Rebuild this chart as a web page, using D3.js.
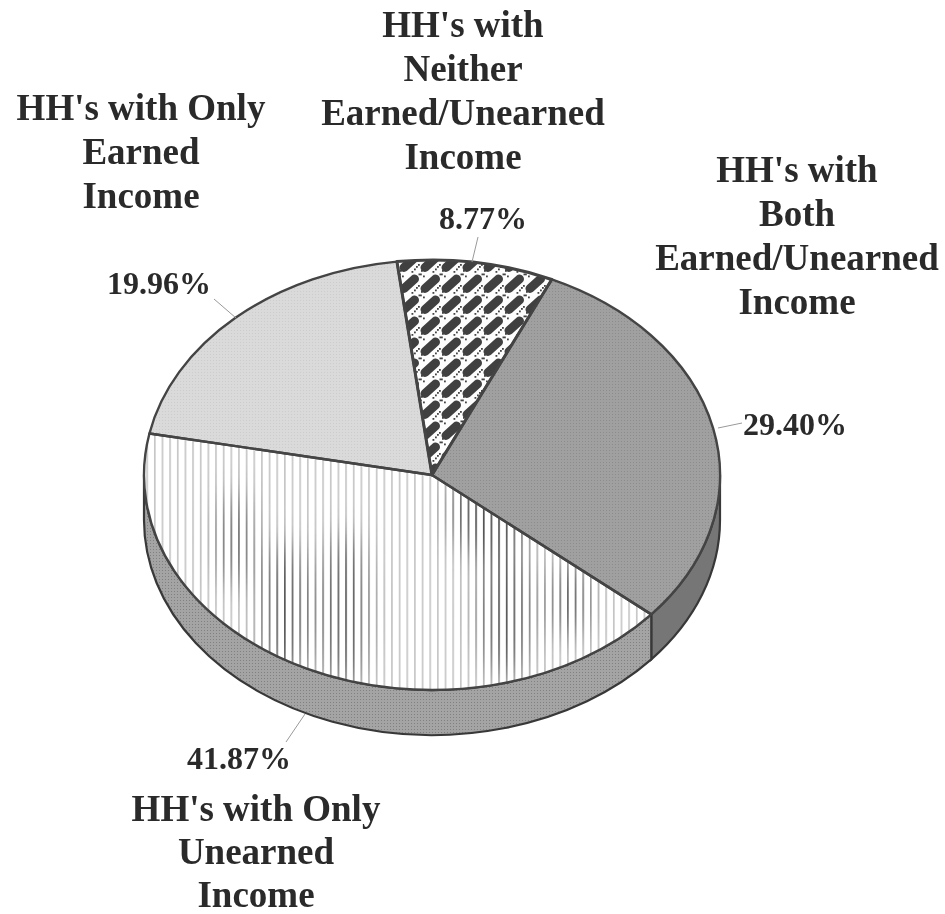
<!DOCTYPE html>
<html><head><meta charset="utf-8">
<script src="https://cdn.jsdelivr.net/npm/d3@7"></script>
<style>html,body{margin:0;padding:0;background:#fff}svg{display:block;filter:blur(0.45px)}
text{font-family:"Liberation Serif","Times New Roman",serif;font-weight:700;fill:#2a2a2a}</style>
</head><body><svg id="c" width="945" height="914"></svg>
<script>
const categories=["Neither","Both","Unearned","Earned"];
const values=[8.77,29.40,41.87,19.96];
const valueLabels=["8.77%","29.40%","41.87%","19.96%"];
const categoryLines=[
 ["HH's with","Neither","Earned/Unearned","Income"],
 ["HH's with","Both","Earned/Unearned","Income"],
 ["HH's with Only","Unearned","Income"],
 ["HH's with Only","Earned","Income"]];

// layout
const catAnchor=[[463,37,44],[797,182,44],[256,821,43],[141,120,44]];
const valueAnchor=[[483,229],[795,435],[239,769],[159,294]];
const leaders=[[[478,237],[472,262]],[[718,428],[742,423]],[[286,742],[305,714]],[[214,299],[236,318]]];
const patterns=["pNeither","pBoth","pUnearned","pEarned"];
const sideFills=[null,"#767676","url(#pSide)",null];
const cx=432,cy=475,rx=288,ry=215,depth=45,start=-7*Math.PI/180;

const svg=d3.select("#c"),defs=svg.append("defs");
function tile(id,size,draw){const p=defs.append("pattern").attr("id",id).attr("patternUnits","userSpaceOnUse")
  .attr("width",size).attr("height",size);draw(p);}
tile("pEarned",3,p=>{p.append("rect").attr("width",3).attr("height",3).attr("fill","#dadada");
  p.append("rect").attr("width",1).attr("height",1).attr("fill","#cccccc");});
tile("pBoth",3,p=>{p.append("rect").attr("width",3).attr("height",3).attr("fill","#a0a0a0");
  p.append("rect").attr("width",1).attr("height",1).attr("fill","#8c8c8c");});
tile("pSide",3,p=>{p.append("rect").attr("width",3).attr("height",3).attr("fill","#a4a4a4");
  p.append("rect").attr("width",1).attr("height",1).attr("fill","#808080");});
defs.append("pattern").attr("id","pStripe").attr("patternUnits","userSpaceOnUse")
  .attr("width",7.65).attr("height",8).call(p=>{
  p.append("rect").attr("x",1).attr("width",1.6).attr("height",8).attr("fill","#fff");});
defs.append("mask").attr("id","mStripe").attr("maskUnits","userSpaceOnUse")
  .attr("x",0).attr("y",0).attr("width",945).attr("height",914)
  .append("rect").attr("width",945).attr("height",914).attr("fill","url(#pStripe)");
defs.append("filter").attr("id","soft").attr("x","-50%").attr("y","-50%").attr("width","200%").attr("height","200%")
  .append("feGaussianBlur").attr("stdDeviation",14);
tile("pNeither",21,p=>{
  p.append("rect").attr("width",21).attr("height",21).attr("fill","#fdfdfd");
  p.append("line").attr("x1",5).attr("y1",15.5).attr("x2",15.5).attr("y2",6)
   .attr("stroke","#404040").attr("stroke-width",9).attr("stroke-linecap","round");
  [[19.5,0.5],[17,14],[19,12],[15,16.5],[12.5,19],[1,18],[0,0.5],[3,2.5]].forEach(d=>
    p.append("rect").attr("x",d[0]).attr("y",d[1]).attr("width",1.8).attr("height",1.8).attr("fill","#444"));
});

const x=a=>cx+rx*Math.sin(a), y=a=>cy-ry*Math.cos(a);
const arcs=d3.pie().sort(null).startAngle(start).endAngle(start+2*Math.PI)(values);
const wedge=d=>{const lg=(d.endAngle-d.startAngle)>Math.PI?1:0;
   return `M${cx},${cy}L${x(d.startAngle)},${y(d.startAngle)}A${rx},${ry} 0 ${lg} 1 ${x(d.endAngle)},${y(d.endAngle)}Z`;};

function sidePath(a0,a1){const lg=(a1-a0)>Math.PI?1:0;
  return `M${x(a0)},${y(a0)}A${rx},${ry} 0 ${lg} 1 ${x(a1)},${y(a1)}L${x(a1)},${y(a1)+depth}A${rx},${ry} 0 ${lg} 0 ${x(a0)},${y(a0)+depth}Z`;}
const sideG=svg.append("g");
arcs.forEach((d,i)=>{ if(!sideFills[i])return;
  const a0=Math.max(d.startAngle,Math.PI/2), a1=Math.min(d.endAngle,Math.PI*1.5);
  sideG.append("path").attr("d",sidePath(a0,a1)).attr("fill",sideFills[i])
   .attr("stroke","#383838").attr("stroke-width",2.2);});

// slice fills
const sliceG=svg.append("g");
sliceG.selectAll("path").data(arcs).join("path")
 .attr("d",wedge).attr("fill",(d,i)=>patterns[i]==="pUnearned"?"#fff":`url(#${patterns[i]})`);
// the scan's moire in the vertical rules of the Unearned slice
defs.append("clipPath").attr("id","cUnearned").append("path").attr("d",wedge(arcs[2]));
const rules=svg.append("g").attr("clip-path","url(#cUnearned)").append("g").attr("mask","url(#mStripe)");
rules.append("rect").attr("width",945).attr("height",914).attr("fill","#c4c4c4");
rules.append("g").attr("filter","url(#soft)").selectAll("ellipse")
 .data([[285,610,22,70],[345,610,22,80],[490,510,40,50],[505,610,25,70],[235,540,15,50],[570,600,18,40]])
 .join("ellipse").attr("cx",d=>d[0]).attr("cy",d=>d[1]).attr("rx",d=>d[2]).attr("ry",d=>d[3]).attr("fill","#444");
// slice outlines
svg.append("g").selectAll("path").data(arcs).join("path")
 .attr("d",wedge).attr("fill","none")
 .attr("stroke","#444").attr("stroke-width",(d,i)=>i===0?3:2.4).attr("stroke-linejoin","round");

svg.append("g").selectAll("path").data(leaders).join("path")
 .attr("d",d3.line()).attr("fill","none").attr("stroke","#999").attr("stroke-width",1);

svg.append("g").selectAll("text").data(valueLabels).join("text")
 .attr("x",(d,i)=>valueAnchor[i][0]).attr("y",(d,i)=>valueAnchor[i][1])
 .attr("text-anchor","middle").attr("font-size",32).text(d=>d);
const g=svg.append("g");
categoryLines.forEach((lines,k)=>{
  const [ax,ay,step]=catAnchor[k];
  const t=g.append("text").attr("text-anchor","middle").attr("font-size",37);
  lines.forEach((l,i)=>t.append("tspan").attr("x",ax).attr("y",ay+i*step).text(l));
});
</script></body></html>
